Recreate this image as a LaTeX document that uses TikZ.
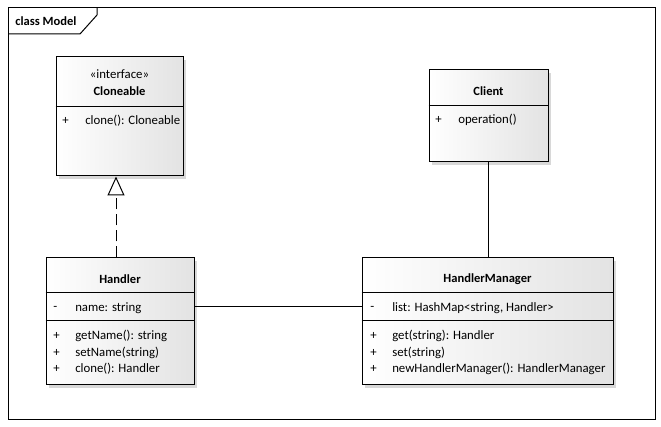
\documentclass[tikz,border=0pt]{standalone}
\usepackage{fontspec}
\setmainfont{Carlito}
\usetikzlibrary{arrows.meta}
\usetikzlibrary{shadows, fit, positioning, calc}
\tikzset{
    classBox/.style={draw, line width=0.75pt, inner sep=0pt,
        left color=white, right color=black!11,
        drop shadow={shadow xshift=2.2pt, shadow yshift=-2.2pt, fill=black!22, opacity=0.7}},
    sepLine/.style={line width=0.75pt},
    frameLine/.style={line width=0.75pt},
    headTxt/.style={font=\bfseries\fontsize{9.4}{10}\selectfont, inner sep=0pt},
    memTxt/.style={font=\fontsize{9.6}{10}\selectfont, inner sep=0pt, anchor=west},
    assocU/.style={line width=0.75pt},
    realizeG/.style={line width=0.75pt, dash pattern=on 8.5pt off 3.5pt,
        -{Triangle[open, length=14.25pt, width=12.75pt, fill=white]}}
}
\begin{document}
\begin{tikzpicture}[x=0.75pt, y=-0.75pt]
    \useasboundingbox (0,0) rectangle (661,427);
    % frame
    \draw[frameLine] (8,8) rectangle (655,420);
    \draw[frameLine] (8,34) -- (80,34) -- (97,15) -- (97,8);
    \node[headTxt, anchor=west] (frameLbl) at (15,21) {class Model};
    % classes
    \node[classBox, fit={(56,57) (183,176)}] (cl) {};
    \node[classBox, fit={(429,70) (548,162)}] (client) {};
    \node[classBox, fit={(46,258) (194,385)}] (handler) {};
    \node[classBox, fit={(362,258) (613,385)}] (mgr) {};
    \draw[sepLine] (cl.west |- 0,107) -- (cl.east |- 0,107);
    \draw[sepLine] (client.west |- 0,106) -- (client.east |- 0,106);
    \foreach \y in {293,321}{
        \draw[sepLine] (handler.west |- 0,\y) -- (handler.east |- 0,\y);
        \draw[sepLine] (mgr.west |- 0,\y) -- (mgr.east |- 0,\y);
    }
    % Cloneable
    \node[memTxt, anchor=center] (clSt) at (119.5,74) {«interface»};
    \node[headTxt] (clName) at (119.5,91) {Cloneable};
    \node[memTxt] (clV1) at (62,121) {+};
    \node[memTxt] (clOp1) at (85,121) {clone(): Cloneable};
    % Client
    \node[headTxt] (clientName) at (488.5,91) {Client};
    \node[memTxt] (clientV1) at (435,120) {+};
    \node[memTxt] (clientOp1) at (458,120) {operation()};
    % Handler
    \node[headTxt] (handlerName) at (120,279) {Handler};
    \node[memTxt] (hV0) at (53,308) {-};
    \node[memTxt] (hAt1) at (75,308) {name: string};
    \node[memTxt] (hV1) at (53,336) {+};
    \node[memTxt] (hOp1) at (75,336) {getName(): string};
    \node[memTxt] (hV2) at (53,353) {+};
    \node[memTxt] (hOp2) at (75,353) {setName(string)};
    \node[memTxt] (hV3) at (53,369) {+};
    \node[memTxt] (hOp3) at (75,369) {clone(): Handler};
    % HandlerManager
    \node[headTxt] (mgrName) at (487.5,279) {HandlerManager};
    \node[memTxt] (mV0) at (370,308) {-};
    \node[memTxt] (mAt1) at (392,308) {list: HashMap<string, Handler>};
    \node[memTxt] (mV1) at (370,336) {+};
    \node[memTxt] (mOp1) at (392,336) {get(string): Handler};
    \node[memTxt] (mV2) at (370,353) {+};
    \node[memTxt] (mOp2) at (392,353) {set(string)};
    \node[memTxt] (mV3) at (370,369) {+};
    \node[memTxt] (mOp3) at (392,369) {newHandlerManager(): HandlerManager};
    % connectors
    \draw[realizeG] (handler.north -| 116,0) -- (cl.south -| 116,0);
    \draw[assocU] (client.south) -- (client.south |- mgr.north);
    \draw[assocU] (handler.east |- 0,307) -- (mgr.west |- 0,307);
\end{tikzpicture}
\end{document}
